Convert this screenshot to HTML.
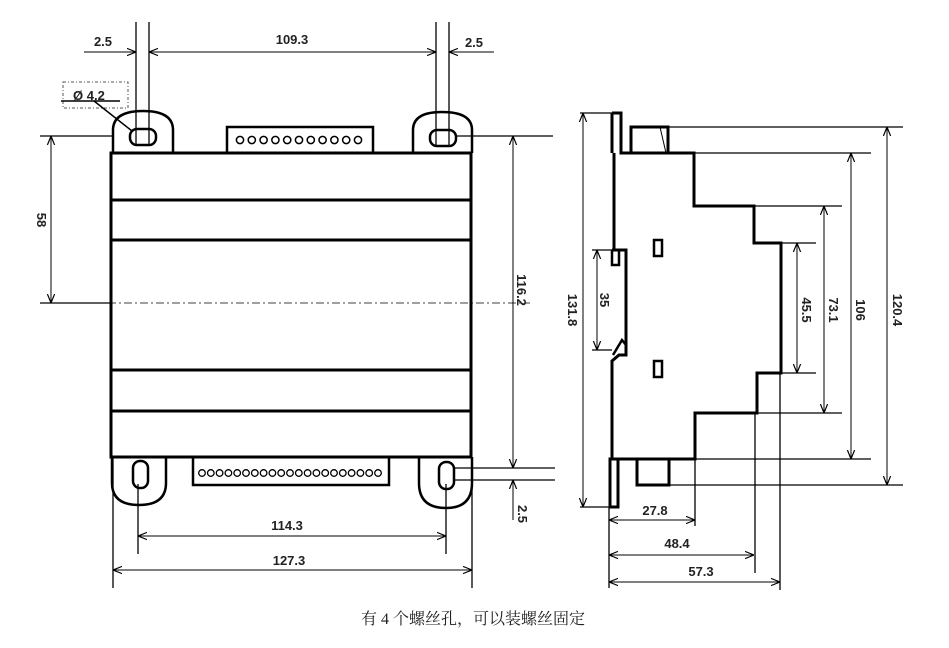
<!DOCTYPE html>
<html><head><meta charset="utf-8"><style>
html,body{margin:0;padding:0;background:#fff;}
svg{display:block;}
text{font-family:"Liberation Sans",Arial,sans-serif;font-weight:bold;font-size:13px;fill:#222;}
.cap{font-family:"Liberation Serif","Noto Serif CJK SC",serif;font-weight:normal;font-size:16px;fill:#222;}
</style></head><body>
<svg width="949" height="648" viewBox="0 0 949 648" xmlns="http://www.w3.org/2000/svg">
<defs>
<marker id="a" viewBox="0 0 10 10" refX="10" refY="5" markerWidth="9" markerHeight="9" orient="auto-start-reverse" markerUnits="userSpaceOnUse">
<path d="M0,1 L10,5 L0,9" fill="none" stroke="#000" stroke-width="1.3"/>
</marker>
</defs>
<g stroke="#000" fill="none">
<rect x="111" y="153" width="360" height="304" stroke-width="3"/>
<line x1="111" y1="200" x2="471" y2="200" stroke-width="3"/>
<line x1="111" y1="240" x2="471" y2="240" stroke-width="3"/>
<line x1="111" y1="370" x2="471" y2="370" stroke-width="3"/>
<line x1="111" y1="411" x2="471" y2="411" stroke-width="3"/>
<line x1="108" y1="303" x2="530" y2="303" stroke-width="0.8" stroke-dasharray="8,3,2,3"/>
<path d="M113,153 V130 Q113,111 143,111 Q173,111 173,130 V153" stroke-width="2.5"/>
<rect x="130" y="129" width="26" height="16" rx="7" stroke-width="2.5"/>
<path d="M413,153 V130 Q413,112 442,112 Q472,112 472,130 V153" stroke-width="2.5"/>
<rect x="430" y="130" width="26" height="16" rx="7" stroke-width="2.5"/>
<rect x="227" y="127" width="146" height="26" stroke-width="2.5"/>
<g stroke-width="1.5">
<circle cx="240" cy="140" r="3.6"/><circle cx="251.8" cy="140" r="3.6"/><circle cx="263.6" cy="140" r="3.6"/><circle cx="275.4" cy="140" r="3.6"/><circle cx="287.2" cy="140" r="3.6"/><circle cx="299" cy="140" r="3.6"/><circle cx="310.8" cy="140" r="3.6"/><circle cx="322.6" cy="140" r="3.6"/><circle cx="334.4" cy="140" r="3.6"/><circle cx="346.2" cy="140" r="3.6"/><circle cx="358" cy="140" r="3.6"/>
</g>
<g stroke-width="1.3">
<line x1="136" y1="22" x2="136" y2="146"/><line x1="149" y1="22" x2="149" y2="146"/>
<line x1="436" y1="22" x2="436" y2="146"/><line x1="449" y1="22" x2="449" y2="146"/>
</g>
<g stroke-width="1">
<line x1="84" y1="52" x2="136" y2="52" marker-end="url(#a)"/>
<line x1="149" y1="52" x2="436" y2="52" marker-start="url(#a)" marker-end="url(#a)"/>
<line x1="494" y1="52" x2="449" y2="52" marker-end="url(#a)"/>
<rect x="63" y="82" width="65" height="26" stroke-dasharray="3,2,1,2" stroke="#555"/>
<line x1="61" y1="101" x2="120" y2="101" stroke-width="1.5"/>
<line x1="94" y1="101" x2="132" y2="131" stroke-width="1.5"/>
<line x1="40" y1="136" x2="112" y2="136" stroke-width="1.3"/>
<line x1="40" y1="303" x2="111" y2="303" stroke-width="1.3"/>
<line x1="51" y1="136" x2="51" y2="303" marker-start="url(#a)" marker-end="url(#a)"/>
<line x1="456" y1="136" x2="553" y2="136" stroke-width="1.3"/>
<line x1="513" y1="136" x2="513" y2="468" marker-start="url(#a)" marker-end="url(#a)"/>
<line x1="455" y1="468" x2="555" y2="468" stroke-width="1.3"/>
<line x1="455" y1="480" x2="555" y2="480" stroke-width="1.3"/>
<line x1="513" y1="520" x2="513" y2="480" marker-end="url(#a)"/>
</g>
<path d="M112,457 V483 Q112,505 139,505 Q166,505 166,483 V457" stroke-width="2.5"/>
<rect x="133" y="461" width="15" height="27" rx="7" stroke-width="2.5"/>
<path d="M419,457 V483 Q419,508 446,508 Q472,508 472,483 V457" stroke-width="2.5"/>
<rect x="439" y="462" width="15" height="27" rx="7" stroke-width="2.5"/>
<rect x="193" y="457" width="196" height="28" stroke-width="2.5"/>
<g stroke-width="1.3">
<circle cx="202" cy="473" r="3.3"/><circle cx="210.8" cy="473" r="3.3"/><circle cx="219.6" cy="473" r="3.3"/><circle cx="228.4" cy="473" r="3.3"/><circle cx="237.2" cy="473" r="3.3"/><circle cx="246" cy="473" r="3.3"/><circle cx="254.8" cy="473" r="3.3"/><circle cx="263.6" cy="473" r="3.3"/><circle cx="272.4" cy="473" r="3.3"/><circle cx="281.2" cy="473" r="3.3"/><circle cx="290" cy="473" r="3.3"/><circle cx="298.8" cy="473" r="3.3"/><circle cx="307.6" cy="473" r="3.3"/><circle cx="316.4" cy="473" r="3.3"/><circle cx="325.2" cy="473" r="3.3"/><circle cx="334" cy="473" r="3.3"/><circle cx="342.8" cy="473" r="3.3"/><circle cx="351.6" cy="473" r="3.3"/><circle cx="360.4" cy="473" r="3.3"/><circle cx="369.2" cy="473" r="3.3"/><circle cx="378" cy="473" r="3.3"/>
</g>
<g stroke-width="1.3">
<line x1="138" y1="484" x2="138" y2="554"/><line x1="446" y1="484" x2="446" y2="554"/>
<line x1="113" y1="457" x2="113" y2="588"/><line x1="472" y1="457" x2="472" y2="588"/>
</g>
<g stroke-width="1">
<line x1="138" y1="536" x2="446" y2="536" marker-start="url(#a)" marker-end="url(#a)"/>
<line x1="113" y1="570" x2="472" y2="570" marker-start="url(#a)" marker-end="url(#a)"/>
</g>

<path d="M612,113 H621 V153 H694 V206 H754 V243 H781 V373 H757 V413 H695 V459 H614" stroke-width="3"/>
<path d="M614,153 V250" stroke-width="3"/>
<path d="M612,153 V113" stroke-width="3"/>
<path d="M612,250 H626 V355 H619 L612,361 V459" stroke-width="3"/>
<path d="M612,250 V265 H619 V250" stroke-width="2.5"/>
<path d="M613,355 L622,340 L626,345" stroke-width="2.5"/>
<rect x="610" y="459" width="8" height="48" stroke-width="3"/>
<path d="M631,153 V127 H668 V153" stroke-width="3"/>
<line x1="660" y1="127" x2="666" y2="153" stroke-width="1"/>
<path d="M637,459 V485 H669 V459" stroke-width="3"/>
<rect x="654" y="240" width="8" height="16" stroke-width="2.5"/>
<rect x="654" y="361" width="8" height="16" stroke-width="2.5"/>
<g stroke-width="1.3">
<line x1="668" y1="127" x2="903" y2="127"/><line x1="669" y1="485" x2="903" y2="485"/>
<line x1="694" y1="153" x2="871" y2="153"/><line x1="695" y1="459" x2="871" y2="459"/>
<line x1="754" y1="206" x2="842" y2="206"/><line x1="757" y1="413" x2="842" y2="413"/>
<line x1="781" y1="243" x2="816" y2="243"/><line x1="781" y1="373" x2="816" y2="373"/>
<line x1="580" y1="113" x2="612" y2="113"/><line x1="580" y1="507" x2="612" y2="507"/>
<line x1="592" y1="250" x2="614" y2="250"/><line x1="592" y1="350" x2="612" y2="350"/>
<line x1="609" y1="507" x2="609" y2="588"/>
<line x1="695" y1="459" x2="695" y2="526"/>
<line x1="755" y1="413" x2="755" y2="573"/>
<line x1="780" y1="373" x2="780" y2="590"/>
</g>
<g stroke-width="1">
<line x1="887" y1="127" x2="887" y2="485" marker-start="url(#a)" marker-end="url(#a)"/>
<line x1="851" y1="153" x2="851" y2="459" marker-start="url(#a)" marker-end="url(#a)"/>
<line x1="824" y1="206" x2="824" y2="413" marker-start="url(#a)" marker-end="url(#a)"/>
<line x1="797" y1="243" x2="797" y2="373" marker-start="url(#a)" marker-end="url(#a)"/>
<line x1="583" y1="113" x2="583" y2="507" marker-start="url(#a)" marker-end="url(#a)"/>
<line x1="597" y1="250" x2="597" y2="350" marker-start="url(#a)" marker-end="url(#a)"/>
<line x1="609" y1="520" x2="695" y2="520" marker-start="url(#a)" marker-end="url(#a)"/>
<line x1="609" y1="555" x2="754" y2="555" marker-start="url(#a)" marker-end="url(#a)"/>
<line x1="609" y1="582" x2="780" y2="582" marker-start="url(#a)" marker-end="url(#a)"/>
</g>
</g>
<text x="103" y="46" text-anchor="middle">2.5</text>
<text x="292" y="44" text-anchor="middle">109.3</text>
<text x="474" y="47" text-anchor="middle">2.5</text>
<text x="73" y="100" font-size="12">Ø 4.2</text>
<text transform="translate(37,220) rotate(90)" text-anchor="middle">58</text>
<text transform="translate(517,290) rotate(90)" text-anchor="middle">116.2</text>
<text transform="translate(518,514) rotate(90)" text-anchor="middle">2.5</text>
<text x="287" y="530" text-anchor="middle">114.3</text>
<text x="289" y="565" text-anchor="middle">127.3</text>
<text transform="translate(568,310) rotate(90)" text-anchor="middle">131.8</text>
<text transform="translate(600,300) rotate(90)" text-anchor="middle">35</text>
<text transform="translate(802,310) rotate(90)" text-anchor="middle">45.5</text>
<text transform="translate(829,310) rotate(90)" text-anchor="middle">73.1</text>
<text transform="translate(856,310) rotate(90)" text-anchor="middle">106</text>
<text transform="translate(893,310) rotate(90)" text-anchor="middle">120.4</text>
<text x="655" y="515" text-anchor="middle">27.8</text>
<text x="677" y="548" text-anchor="middle">48.4</text>
<text x="701" y="576" text-anchor="middle">57.3</text>
<text class="cap" x="473" y="624" text-anchor="middle">有 4 个螺丝孔，可以装螺丝固定</text>
</svg>
</body></html>
